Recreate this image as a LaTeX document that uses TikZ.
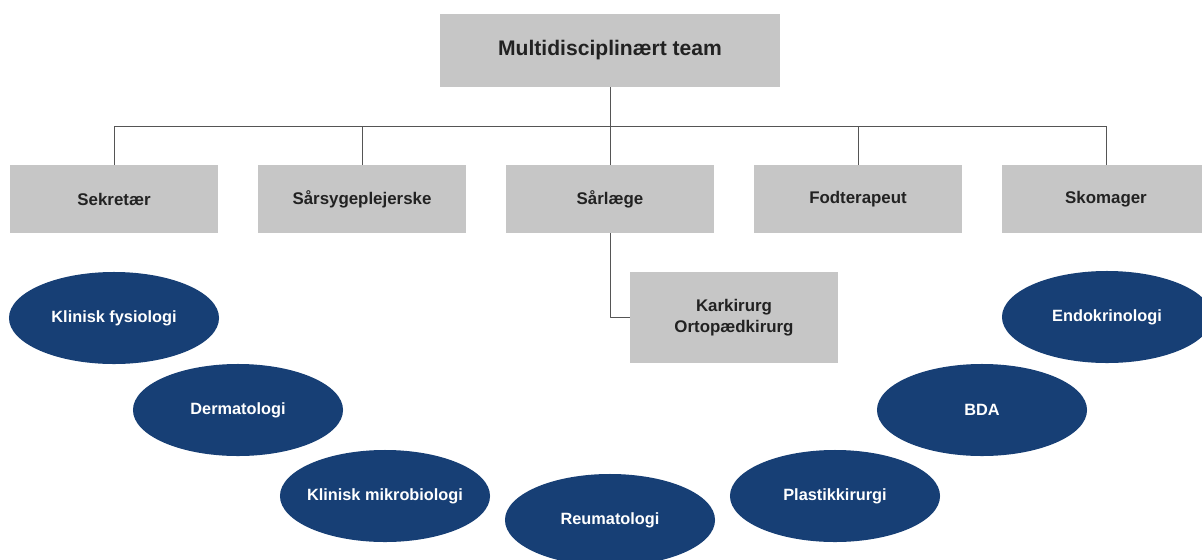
\documentclass[tikz,border=0pt]{standalone}
\usepackage{fontspec}
\setmainfont{Liberation Sans}
\usepackage{xcolor}
\usepackage{tikz}
\usetikzlibrary{shapes.geometric}
\definecolor{boxgray}{HTML}{C6C6C6}
\definecolor{navy}{HTML}{173F75}
\definecolor{txt}{HTML}{222222}
\definecolor{linegray}{HTML}{555555}

\begin{document}
\begin{tikzpicture}[x=0.025cm, y=-0.025cm, line join=round,
  role/.style={fill=boxgray, text=txt, font=\bfseries\fontsize{12}{15}\selectfont,
    minimum width=5.2cm, minimum height=1.7cm, inner sep=0pt, align=center},
  field/.style={ellipse, fill=navy, text=white, font=\bfseries\fontsize{11.6}{14}\selectfont,
    minimum width=5.25cm, minimum height=2.3cm, inner sep=0pt},
  wire/.style={draw=linegray, line width=0.7pt}]
  \useasboundingbox (0,0) rectangle (1202,559);
  \clip (0,0) rectangle (1202,559);
  % top box
  \node[role, minimum width=8.5cm, minimum height=1.825cm,
        font=\bfseries\fontsize{15}{18}\selectfont] (team) at (610,50.5) {Multidisciplinært team};
  % row of roles
  \node[role] (sekr)     at (114,199) {Sekretær};
  \node[role] (saarsyg)  at (362,199) {Sårsygeplejerske};
  \node[role] (saarlaege) at (610,199) {Sårlæge};
  \node[role] (fodter)   at (858,199) {Fodterapeut};
  \node[role] (skomager) at (1106,199) {Skomager};
  \node[role, minimum height=2.275cm] (karkir) at (734,317.5) {Karkirurg\\Ortopædkirurg};
  % bus line
  \coordinate (busL) at (114,126);
  \coordinate (busR) at (1106,126);
  \draw[wire] (busL) -- (busR);
  \draw[wire] (team.south) -- (team.south |- busL);
  \foreach \n in {sekr,saarsyg,saarlaege,fodter,skomager}{
    \draw[wire] (\n.north) -- (\n.north |- busL);
  }
  \draw[wire] (saarlaege.south) |- (karkir.west);
  % specialties
  \node[field] (klinfys) at (114,318) {Klinisk fysiologi};
  \node[field] (derma)   at (238,410) {Dermatologi};
  \node[field] (mikro)   at (385,496) {\makebox[0pt]{Klinisk mikrobiologi}};
  \node[field] (reuma)   at (610,520) {Reumatologi};
  \node[field] (plast)   at (835,496) {Plastikkirurgi};
  \node[field] (bda)     at (982,410) {BDA};
  \node[field] (endo)    at (1107,317) {Endokrinologi};
\end{tikzpicture}
\end{document}
